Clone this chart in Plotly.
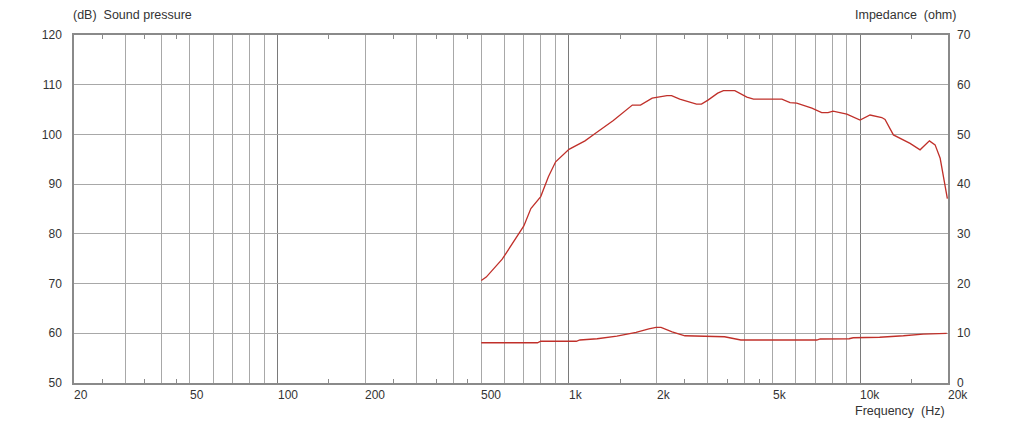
import numpy as np
import plotly.graph_objects as go

# sound pressure level curve (Hz, dB)
spl_freq = [500, 520, 590, 700, 740, 800, 850, 900, 1000, 1135, 1230, 1420, 1650, 1760,
            1930, 2170, 2250, 2400, 2740, 2850, 3000, 3240, 3390, 3710, 4080, 4300, 5380,
            5740, 6050, 6820, 7370, 7750, 8060, 8990, 9980, 10800, 11850, 12160, 12990,
            13700, 14820, 16040, 17270, 18060, 18800, 19900]
spl_db = [70.6, 71.3, 74.9, 81.6, 85.1, 87.5, 91.5, 94.5, 97.0, 98.7, 100.2, 102.8, 105.9, 105.9,
          107.3, 107.8, 107.8, 107.1, 106.1, 106.1, 106.9, 108.3, 108.8, 108.8, 107.5, 107.1, 107.1,
          106.4, 106.3, 105.3, 104.4, 104.4, 104.7, 104.1, 102.9, 103.9, 103.4, 103.0, 99.9,
          99.2, 98.2, 96.9, 98.7, 97.9, 95.2, 87.1]

# impedance curve (Hz, ohm)
imp_freq = [500, 780, 800, 1060, 1090, 1250, 1460, 1700, 1880, 1990, 2070, 2260, 2500, 2930,
            3420, 3890, 7090, 7280, 9150, 9450, 11650, 14060, 16440, 19800]
imp_ohm = [8.1, 8.1, 8.4, 8.4, 8.65, 8.9, 9.45, 10.2, 10.9, 11.2, 11.2, 10.3, 9.5, 9.4,
           9.3, 8.65, 8.65, 8.85, 8.9, 9.1, 9.2, 9.5, 9.85, 10.0]

grid_freq = [30, 40, 50, 60, 70, 80, 90, 200, 300, 400, 500, 600, 700, 800, 900,
             2000, 3000, 4000, 5000, 6000, 7000, 8000, 9000, 20000]
decade_freq = [100, 1000, 10000]
minor_freq = [25, 35, 45, 150, 250, 350, 450, 1500, 2500, 3500, 4500, 15000]
xlabel_vals = [20, 50, 100, 200, 500, 1000, 2000, 5000, 10000, 20000]
xlabel_text = ["20", "50", "100", "200", "500", "1k", "2k", "5k", "10k", "20k"]
spl_ticks = [50, 60, 70, 80, 90, 100, 110, 120]
imp_ticks = [0, 10, 20, 30, 40, 50, 60, 70]

FONT = "Liberation Sans, Arial, sans-serif"
TXT = "#333333"
RED = "#c0302a"
xr = [np.log10(20), np.log10(20000)]

fig = go.Figure()
fig.add_trace(go.Scatter(x=spl_freq, y=spl_db, mode="lines",
                         line=dict(color=RED, width=1.3), xaxis="x", yaxis="y"))
fig.add_trace(go.Scatter(x=imp_freq, y=imp_ohm, mode="lines",
                         line=dict(color=RED, width=1.3), xaxis="x2", yaxis="y2"))

annotations = []
for v, t in zip(xlabel_vals, xlabel_text):
    annotations.append(dict(x=np.log10(v), y=0, xref="x", yref="paper", text=t,
                            showarrow=False, xanchor="left", yanchor="top",
                            xshift=-2, yshift=-3, font=dict(size=12, color=TXT)))
annotations += [
    dict(x=-0.003, y=1, xref="paper", yref="paper", text="(dB)\u00a0\u00a0Sound pressure",
         showarrow=False, xanchor="left", yanchor="bottom", yshift=11,
         font=dict(size=12.5, color=TXT)),
    dict(x=1.0114, y=1, xref="paper", yref="paper", text="Impedance\u00a0\u00a0(ohm)",
         showarrow=False, xanchor="right", yanchor="bottom", yshift=11,
         font=dict(size=12.5, color=TXT)),
    dict(x=0.999, y=0, xref="paper", yref="paper", text="Frequency\u00a0\u00a0(Hz)",
         showarrow=False, xanchor="right", yanchor="top", yshift=-19,
         font=dict(size=12.5, color=TXT)),
]

# page body adds an 8px margin, so the figure is a little smaller than the window
fig.update_layout(
    width=1014, height=415,
    margin=dict(l=66, r=74, t=27, b=40, autoexpand=False),
    paper_bgcolor="white", plot_bgcolor="white",
    showlegend=False,
    font=dict(family=FONT, size=12, color=TXT),
    xaxis=dict(type="log", range=xr, tickmode="array", tickvals=minor_freq,
               showticklabels=False, ticks="inside", ticklen=4, tickwidth=1,
               tickcolor="#8a8a8a", showgrid=False, zeroline=False, showline=True,
               linecolor="#8a8a8a", linewidth=1.5, mirror="ticks", automargin=False,
               minor=dict(tickmode="array", tickvals=decade_freq, ticks="",
                          showgrid=True, gridcolor="#7a7a7a", gridwidth=1.2)),
    xaxis2=dict(type="log", range=xr, overlaying="x", tickmode="array",
                tickvals=grid_freq, showticklabels=False, ticks="",
                showgrid=True, gridcolor="#a8a8a8", gridwidth=1, zeroline=False,
                showline=False, automargin=False),
    yaxis=dict(range=[50, 120], tickmode="array", tickvals=spl_ticks, ticks="",
               showgrid=True, gridcolor="#a8a8a8", zeroline=False, showline=True,
               linecolor="#8a8a8a", linewidth=1.5, mirror=True, automargin=False,
               ticklabelstandoff=8, tickfont=dict(size=12, color=TXT)),
    yaxis2=dict(range=[0, 70], tickmode="array", tickvals=imp_ticks, ticks="",
                overlaying="y", side="right", anchor="x2", showgrid=False,
                zeroline=False, showline=False, ticklabelstandoff=8, automargin=False,
                tickfont=dict(size=12, color=TXT)),
    annotations=annotations,
)

fig.write_html("out.html")
